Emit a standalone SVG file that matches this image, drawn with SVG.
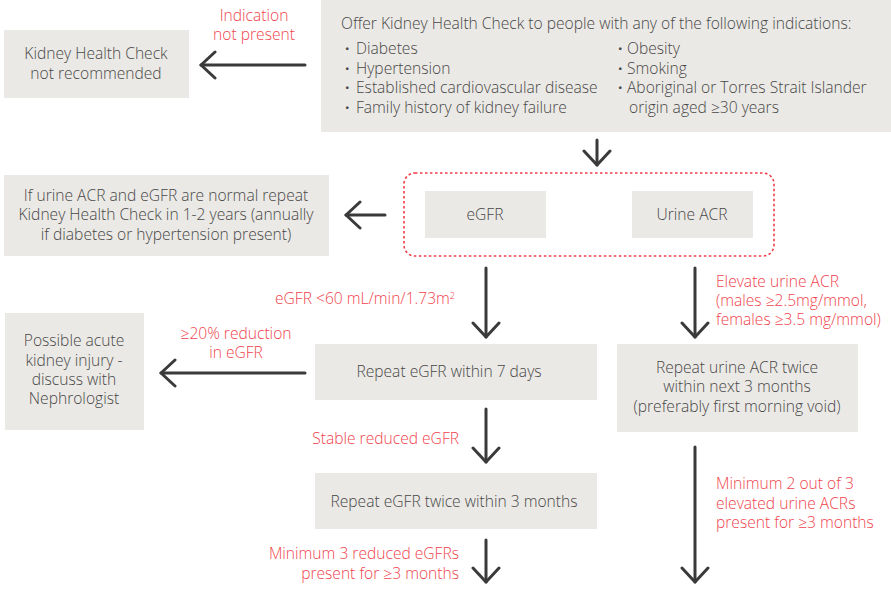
<svg xmlns="http://www.w3.org/2000/svg" width="891" height="589" viewBox="0 0 891 589">
<defs>
<style>
.box{fill:#ebe9e5}
.t{font-family:"Open Sans","Liberation Sans",sans-serif;font-size:15.6px;font-weight:300;fill:#474747}
.r{font-family:"Open Sans","Liberation Sans",sans-serif;font-size:15.6px;font-weight:300;fill:#f0434c}
.b{font-family:"Open Sans","Liberation Sans",sans-serif;font-size:15.6px;font-weight:700;fill:#474747}
.c{text-anchor:middle}
.e{text-anchor:end}
.a{fill:none;stroke:#3a3a3a;stroke-width:3;stroke-linecap:round;stroke-linejoin:round;marker-end:url(#chev)}
.dash{fill:none;stroke:#ef3b45;stroke-width:1.6;stroke-dasharray:2.5 2.5}
</style>
<marker id="chev" markerUnits="userSpaceOnUse" viewBox="-16 -16 32 32" refX="0" refY="0" markerWidth="32" markerHeight="32" orient="auto">
<path d="M-14,-13 L0,0 L-14,13" fill="none" stroke="#3a3a3a" stroke-width="3" stroke-linecap="round" stroke-linejoin="round"/>
</marker>
</defs>

<g id="not-recommended">
<rect class="box" x="4" y="30" width="185" height="68"/>
<text class="t c" x="96" y="59">Kidney Health Check</text>
<text class="t c" x="96" y="79">not recommended</text>
</g>

<g id="offer">
<rect class="box" x="321" y="0" width="570" height="132"/>
<text class="t" x="341" y="29">Offer Kidney Health Check to people with any of the following indications:</text>
<text class="b" x="345" y="54">·</text>
<text class="b" x="345" y="74">·</text>
<text class="b" x="345" y="93">·</text>
<text class="b" x="345" y="113">·</text>
<text class="t" x="356" y="54">Diabetes</text>
<text class="t" x="356" y="74">Hypertension</text>
<text class="t" x="356" y="93">Established cardiovascular disease</text>
<text class="t" x="356" y="113">Family history of kidney failure</text>
<text class="b" x="618" y="54">·</text>
<text class="b" x="618" y="74">·</text>
<text class="b" x="618" y="93">·</text>
<text class="t" x="627" y="54">Obesity</text>
<text class="t" x="627" y="74">Smoking</text>
<text class="t" x="627" y="93">Aboriginal or Torres Strait Islander</text>
<text class="t" x="629" y="113">origin aged ≥30 years</text>
</g>

<g id="tests">
<rect class="dash" x="404" y="173" width="370" height="83" rx="11"/>
</g>
<g id="egfr">
<rect class="box" x="425" y="191" width="121" height="47"/>
<text class="t c" x="485" y="220">eGFR</text>
</g>
<g id="urine-acr">
<rect class="box" x="632" y="191" width="121" height="47"/>
<text class="t c" x="692" y="220">Urine ACR</text>
</g>

<g id="normal-repeat">
<rect class="box" x="4" y="175" width="325" height="81"/>
<text class="t c" x="166" y="201">If urine ACR and eGFR are normal repeat</text>
<text class="t c" x="166" y="220">Kidney Health Check in 1-2 years (annually</text>
<text class="t c" x="166" y="240">if diabetes or hypertension present)</text>
</g>

<g id="aki">
<rect class="box" x="5" y="313" width="139" height="117"/>
<text class="t c" x="74" y="346">Possible acute</text>
<text class="t c" x="74" y="366">kidney injury -</text>
<text class="t c" x="74" y="385">discuss with</text>
<text class="t c" x="74" y="404">Nephrologist</text>
</g>

<g id="repeat-egfr-7">
<rect class="box" x="315" y="344" width="282" height="56"/>
<text class="t c" x="449" y="377">Repeat eGFR within 7 days</text>
</g>

<g id="repeat-acr">
<rect class="box" x="617" y="344" width="241" height="88"/>
<text class="t c" x="737" y="373">Repeat urine ACR twice</text>
<text class="t c" x="737" y="392">within next 3 months</text>
<text class="t c" x="737" y="412">(preferably first morning void)</text>
</g>

<g id="repeat-egfr-3m">
<rect class="box" x="315" y="473" width="282" height="56"/>
<text class="t c" x="454" y="507">Repeat eGFR twice within 3 months</text>
</g>

<g id="connectors">
<path class="a" d="M305,65 H201"/>
<path class="a" d="M597,140 V165"/>
<path class="a" d="M385,215 H346"/>
<path class="a" d="M486,268 V337"/>
<path class="a" d="M695,268 V337"/>
<path class="a" d="M305,373 H161"/>
<path class="a" d="M486,409 V462"/>
<path class="a" d="M486,540 V582"/>
<path class="a" d="M695,447 V582"/>
</g>

<g id="labels">
<text class="r c" x="254" y="21">Indication</text>
<text class="r c" x="254" y="40">not present</text>
<text class="r e" x="455" y="304">eGFR &lt;60 mL/min/1.73m<tspan font-size="9" dy="-5">2</tspan></text>
<text class="r" x="716" y="287">Elevate urine ACR</text>
<text class="r" x="716" y="306">(males ≥2.5mg/mmol,</text>
<text class="r" x="716" y="325">females ≥3.5 mg/mmol)</text>
<text class="r c" x="236" y="339">≥20% reduction</text>
<text class="r c" x="236" y="358">in eGFR</text>
<text class="r e" x="459" y="444">Stable reduced eGFR</text>
<text class="r e" x="459" y="559">Minimum 3 reduced eGFRs</text>
<text class="r e" x="459" y="579">present for ≥3 months</text>
<text class="r" x="716" y="489">Minimum 2 out of 3</text>
<text class="r" x="716" y="509">elevated urine ACRs</text>
<text class="r" x="716" y="528">present for ≥3 months</text>
</g>
</svg>
